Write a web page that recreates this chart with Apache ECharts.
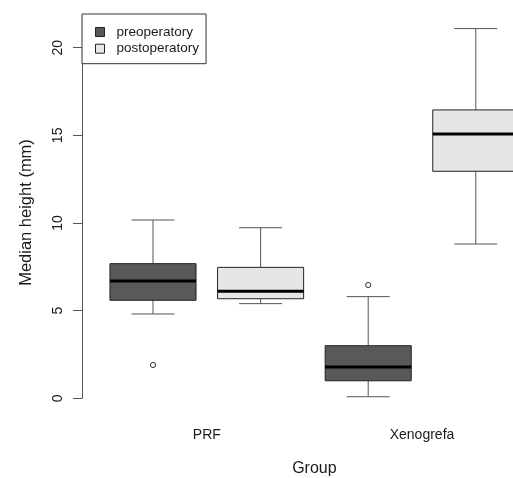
<!DOCTYPE html>
<html><head><meta charset="utf-8">
<script src="https://cdn.jsdelivr.net/npm/echarts@6/dist/echarts.min.js"></script>
<style>html,body{margin:0;padding:0;background:#fff;overflow:hidden}#c{width:513px;height:478px}</style>
</head><body><div id="c"></div>
<script>
// ---- data ----
const groups = ['PRF', 'Xenogrefa'];
const seriesNames = ['preoperatory', 'postoperatory'];
// per group: [lower whisker, Q1, median, Q3, upper whisker]
const preoperatory = [[4.81, 5.59, 6.69, 7.68, 10.17], [0.09, 1.00, 1.79, 3.00, 5.80]];
const postoperatory = [[5.40, 5.68, 6.10, 7.47, 9.73], [8.80, 12.95, 15.08, 16.45, 21.09]];
// outliers: [group index, value]
const preoperatoryOutliers = [[0, 1.90], [1, 6.46]];
const postoperatoryOutliers = [];
const yTicks = [0, 5, 10, 15, 20];

const FONT = 'Liberation Sans, Arial, Helvetica, sans-serif';
const TXT = '#1a1a1a';
const fills = ['#595959', '#e6e6e6'];

function boxRender(side, fill) {
  return function (params, api) {
    const ci = api.value(0);
    const band = api.size([1, 0])[0];
    const x = api.coord([ci, 0])[0] + side * band / 4;
    const hw = band * 0.2, cw = band * 0.1;
    const y = [1, 2, 3, 4, 5].map(d => api.coord([ci, api.value(d)])[1]);
    const lineStyle = { stroke: '#555', lineWidth: 1 };
    return {
      type: 'group',
      children: [
        { type: 'line', shape: { x1: x, y1: y[0], x2: x, y2: y[1] }, style: lineStyle },
        { type: 'line', shape: { x1: x, y1: y[3], x2: x, y2: y[4] }, style: lineStyle },
        { type: 'line', shape: { x1: x - cw, y1: y[0], x2: x + cw, y2: y[0] }, style: lineStyle },
        { type: 'line', shape: { x1: x - cw, y1: y[4], x2: x + cw, y2: y[4] }, style: lineStyle },
        { type: 'rect', shape: { x: x - hw, y: y[3], width: 2 * hw, height: y[1] - y[3] },
          style: { fill: fill, stroke: '#222', lineWidth: 1 } },
        { type: 'line', shape: { x1: x - hw, y1: y[2], x2: x + hw, y2: y[2] },
          style: { stroke: '#000', lineWidth: 3 } }
      ]
    };
  };
}
function outlierRender(side) {
  return function (params, api) {
    const ci = api.value(0);
    const band = api.size([1, 0])[0];
    const p = api.coord([ci, api.value(1)]);
    return { type: 'circle', shape: { cx: p[0] + side * band / 4, cy: p[1], r: 2.6 },
      style: { fill: '#fff', stroke: '#333', lineWidth: 1 } };
  };
}

const chart = echarts.init(document.getElementById('c'), null, { renderer: 'canvas' });
const sides = [-1, 1];
const boxData = [preoperatory, postoperatory];
const outData = [preoperatoryOutliers, postoperatoryOutliers];
const series = [];
seriesNames.forEach((name, s) => {
  series.push({
    type: 'custom', name: name, clip: false,
    itemStyle: { color: fills[s], borderColor: '#222', borderWidth: 1 },
    encode: { x: 0, y: [1, 2, 3, 4, 5] },
    data: boxData[s].map((v, gi) => [gi].concat(v)),
    renderItem: boxRender(sides[s], fills[s]),
    silent: true, animation: false
  });
  series.push({
    type: 'custom', name: name, clip: false,
    itemStyle: { color: fills[s] },
    encode: { x: 0, y: 1 },
    data: outData[s],
    renderItem: outlierRender(sides[s]),
    silent: true, animation: false
  });
});

chart.setOption({
  animation: false,
  backgroundColor: '#fff',
  textStyle: { fontFamily: FONT },
  grid: { left: 99.2, top: 47.7, width: 430.4, height: 350.6, containLabel: false, outerBoundsMode: 'none' },
  legend: {
    orient: 'vertical', left: 82, top: 14,
    padding: [11, 7, 8, 13],
    itemGap: 2.7, itemWidth: 9, itemHeight: 9,
    borderColor: '#333', borderWidth: 1, borderRadius: 0,
    backgroundColor: '#fff',
    icon: 'rect',
    selectedMode: false,
    textStyle: { fontFamily: FONT, fontSize: 13.5, color: TXT, padding: [0, 0, 0, 7], lineHeight: 14 },
    data: seriesNames.map((n, i) => ({ name: n, itemStyle: { color: fills[i], borderColor: '#222', borderWidth: 1 } }))
  },
  xAxis: {
    type: 'category', data: groups, boundaryGap: true,
    axisLine: { show: false }, axisTick: { show: false },
    axisLabel: { fontFamily: FONT, fontSize: 14, color: TXT, margin: 30 },
    name: 'Group', nameLocation: 'middle', nameGap: 62,
    nameTextStyle: { fontFamily: FONT, fontSize: 16, color: TXT }
  },
  yAxis: {
    type: 'value', min: yTicks[0], max: yTicks[yTicks.length - 1], interval: 5,
    offset: 17.2,
    axisLine: { show: true, lineStyle: { color: '#555', width: 1 } },
    axisTick: { show: true, length: 9, lineStyle: { color: '#555', width: 1 } },
    splitLine: { show: false },
    axisLabel: { rotate: 90, margin: 17, fontFamily: FONT, fontSize: 14, color: TXT },
    name: 'Median height (mm)', nameLocation: 'middle', nameGap: 47,
    nameTextStyle: { fontFamily: FONT, fontSize: 16.5, color: TXT, padding: [0, 0, 0, 21] }
  },
  series: series
});
</script></body></html>
